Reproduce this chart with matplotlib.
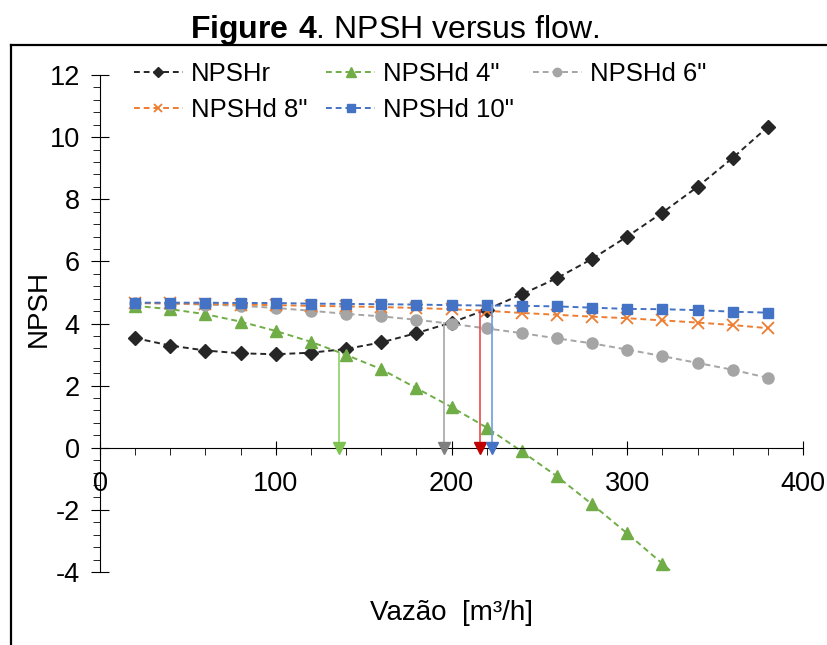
import matplotlib
matplotlib.use("Agg")
import matplotlib.pyplot as plt
from matplotlib.ticker import MultipleLocator
from matplotlib.lines import Line2D

plt.rcParams['font.family'] = ['Liberation Sans', 'DejaVu Sans']
plt.rcParams['mathtext.fontset'] = 'custom'
plt.rcParams['mathtext.rm'] = 'Liberation Sans'
plt.rcParams['mathtext.bf'] = 'Liberation Sans:bold'
plt.rcParams['axes.unicode_minus'] = False

# flow values (m3/h)
vazao = [20, 40, 60, 80, 100, 120, 140, 160, 180, 200,
         220, 240, 260, 280, 300, 320, 340, 360, 380]

npshr = [3.53, 3.29, 3.13, 3.04, 3.01, 3.06, 3.18, 3.39, 3.69, 4.03,
         4.45, 4.94, 5.46, 6.08, 6.80, 7.57, 8.40, 9.33, 10.33]
npshd_4 = [4.57, 4.46, 4.30, 4.06, 3.76, 3.41, 2.99, 2.53, 1.92, 1.31,
           0.65, -0.12, -0.92, -1.82, -2.76, -3.73, -4.75, -5.85, -7.0]
npshd_6 = [4.66, 4.64, 4.61, 4.57, 4.50, 4.41, 4.31, 4.23, 4.12, 3.99,
           3.84, 3.69, 3.52, 3.36, 3.16, 2.95, 2.73, 2.51, 2.25]
npshd_8 = [4.66, 4.65, 4.63, 4.61, 4.59, 4.57, 4.55, 4.53, 4.50, 4.46,
           4.41, 4.34, 4.28, 4.22, 4.17, 4.10, 4.03, 3.95, 3.85]
npshd_10 = [4.67, 4.67, 4.67, 4.66, 4.66, 4.64, 4.63, 4.62, 4.61, 4.59,
            4.58, 4.57, 4.55, 4.51, 4.47, 4.46, 4.43, 4.38, 4.35]

# operating points (drop lines to the axis)
op_x = [136, 196, 216, 223]
op_top = [3.05, 4.03, 4.40, 4.58]
op_line_colors = ['#8fcf6a', '#a6a6a6', '#e84a4a', '#6f9de0']
op_mark_colors = ['#7cc352', '#7f7f7f', '#c00000', '#4472c4']

fig = plt.figure(figsize=(8.27, 6.45), dpi=100)
ax = fig.add_axes([100/827, 73/645, 703/827, 497/645])

dash = (0, (3, 2))
l_r, = ax.plot(vazao, npshr, color='#262626', ls=dash, lw=1.4, marker='D',
               ms=7, label='NPSHr')
l_4, = ax.plot(vazao, npshd_4, color='#70ad47', ls=dash, lw=1.4, marker='^',
               ms=9, label='NPSHd 4"')
l_6, = ax.plot(vazao, npshd_6, color='#a5a5a5', ls=dash, lw=1.4, marker='o',
               ms=8, label='NPSHd 6"')
l_8, = ax.plot(vazao, npshd_8, color='#ed7d31', ls=dash, lw=1.4, marker='x',
               ms=8, mew=1.3, label='NPSHd 8"')
l_10, = ax.plot(vazao, npshd_10, color='#4472c4', ls=dash, lw=1.4, marker='s',
                ms=7, label='NPSHd 10"')

for x, top, lc, mc in zip(op_x, op_top, op_line_colors, op_mark_colors):
    ax.plot([x, x], [top, 0], color=lc, lw=1.2, zorder=3)
    ax.plot([x], [0], marker='v', color=mc, ms=8, ls='none', zorder=4)

ax.set_xlim(0, 400)
ax.set_ylim(-4, 12)
ax.spines['top'].set_visible(False)
ax.spines['right'].set_visible(False)
ax.spines['bottom'].set_position(('data', 0))

ax.xaxis.set_major_locator(MultipleLocator(100))
ax.xaxis.set_minor_locator(MultipleLocator(20))
ax.yaxis.set_major_locator(MultipleLocator(2))
ax.yaxis.set_minor_locator(MultipleLocator(0.4))
ax.tick_params(which='major', direction='inout', labelsize=19.5)
ax.tick_params(axis='x', which='major', length=10, pad=12)
ax.tick_params(axis='y', which='major', length=13, pad=8)
ax.tick_params(which='minor', direction='out', length=5)

ax.set_xlabel('Vazão  [m³/h]', fontsize=20)
ax.xaxis.set_label_coords(0.5, -0.056)
ax.set_ylabel('NPSH', fontsize=20)
ax.yaxis.set_label_coords(-0.068, 0.53)

# legend fills column by column, so order it to read row by row
handles = [l_r, l_8, l_4, l_10, l_6]
ax.legend(handles=handles, labels=[h.get_label() for h in handles],
          loc='upper left', bbox_to_anchor=(134/827, 1 - 62/645),
          bbox_transform=fig.transFigure, ncol=3, frameon=False,
          fontsize=18.5, handlelength=1.9, handletextpad=0.3,
          columnspacing=0.75, labelspacing=0.45, borderpad=0,
          borderaxespad=0, markerscale=0.75)

fig.text(395/827, 1 - 30/645, r'$\mathbf{Figure\ 4}$. NPSH versus flow.',
         ha='center', va='center', fontsize=23)

# outer frame
fig.add_artist(Line2D([11/827, 11/827], [0, 1 - 45/645], color='black', lw=1.6,
                      transform=fig.transFigure))
fig.add_artist(Line2D([11/827, 1], [1 - 45/645, 1 - 45/645], color='black',
                      lw=1.6, transform=fig.transFigure))

fig.savefig('out.png', dpi=100)
